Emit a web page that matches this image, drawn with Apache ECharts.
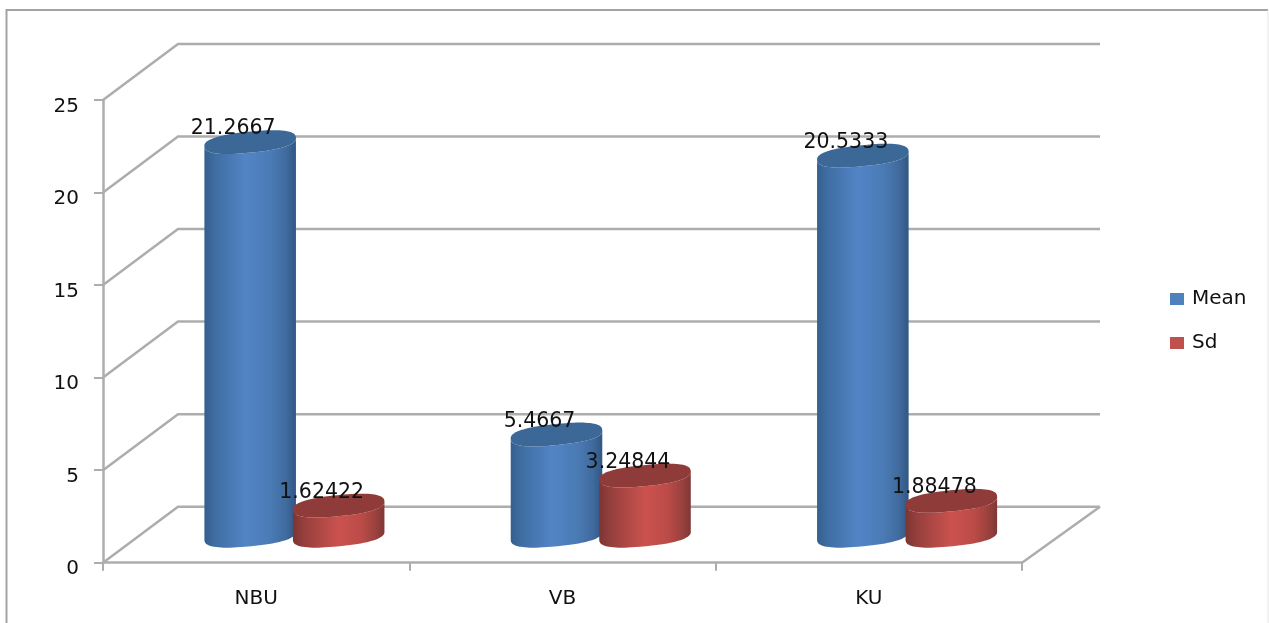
<!DOCTYPE html>
<html><head><meta charset="utf-8">
<style>html,body{margin:0;padding:0;background:#fff}#c{width:1269px;height:623px;filter:blur(0.45px)}</style>
<script src="https://cdn.jsdelivr.net/npm/echarts@6/dist/echarts.min.js"></script>
</head><body><div id="c"></div>
<script>
const categories = ['NBU','VB','KU'];
const meanValues = [21.2667, 5.4667, 20.5333];
const sdValues = [1.62422, 3.24844, 1.88478];
const meanLabels = ['21.2667','5.4667','20.5333'];
const sdLabels = ['1.62422','3.24844','1.88478'];
const yTicks = [0,5,10,15,20,25];

const FONT = '"DejaVu Sans"';
const DEPTH_X = 75, DEPTH_Y = 56, RIGHT_DEPTH_X = 78;
const BASE_X = 38, BASE_Y = 27;
const RX = 46, RY = 10.5, TILT = 0.1, ROUND = 0.8;
const GRID_COLOR = '#adadad';

function arc(cx, cy, from, to, n){
  const pts = [];
  const sp = (c) => Math.sign(c) * Math.pow(Math.abs(c), ROUND);
  for(let i=0;i<=n;i++){
    const t = from + (to-from)*i/n;
    const ex = RX*sp(Math.cos(t)), ey = RY*sp(Math.sin(t));
    pts.push([cx + ex*Math.cos(TILT) + ey*Math.sin(TILT), cy - ex*Math.sin(TILT) + ey*Math.cos(TILT)]);
  }
  return pts;
}
function cylinderItem(offsetX, stops, topColor, labels){
  return function(params, api){
    const i = api.value(0), v = api.value(1);
    const top = api.coord([i, v]), zero = api.coord([i, 0]);
    const cx = top[0] + BASE_X + offsetX;
    const cyTop = top[1] - BASE_Y, cyBase = zero[1] - BASE_Y;
    const body = arc(cx, cyBase, Math.PI, 0, 40).concat(arc(cx, cyTop, 0, Math.PI, 40));
    return {type:'group', children:[
      {type:'polygon', shape:{points:body}, style:{fill:{type:'linear',x:0,y:0,x2:1,y2:0,colorStops:stops}}},
      {type:'polygon', shape:{points:arc(cx, cyTop, 0, Math.PI*2, 80)}, style:{fill:topColor}},
      {type:'text', z2:10, x:cx-17, y:cyTop-13, style:{text:labels[i], font:'20.5px '+FONT, fill:'#111', align:'center', verticalAlign:'middle'}}
    ]};
  };
}
const blueStops = [{offset:0,color:'#34608f'},{offset:.12,color:'#3f6ea2'},{offset:.45,color:'#5284c6'},{offset:.72,color:'#4b7bb5'},{offset:.9,color:'#3f6a9d'},{offset:1,color:'#305683'}];
const redStops = [{offset:0,color:'#7c3533'},{offset:.12,color:'#953f3c'},{offset:.5,color:'#cb524e'},{offset:.75,color:'#bb4b47'},{offset:.9,color:'#9b413e'},{offset:1,color:'#7e3836'}];

const chart = echarts.init(document.getElementById('c'), null, {renderer:'canvas'});
chart.setOption({
  animation:false,
  backgroundColor:'#fff',
  textStyle:{fontFamily:FONT},
  graphic:[
    {type:'polyline', silent:true, shape:{points:[[6.5,623],[6.5,10],[1268,10]]}, style:{stroke:'#a3a3a3', lineWidth:2, fill:null}},
    {type:'line', silent:true, shape:{x1:1268,y1:10,x2:1268,y2:623}, style:{stroke:'#e4e4e4', lineWidth:1}}
  ],
  grid:{left:103, top:100, width:919, height:462.7},
  legend:{
    orient:'vertical', left:1170, top:289, padding:0, itemWidth:14, itemHeight:12, itemGap:24, icon:'rect',
    textStyle:{fontSize:20, fontFamily:FONT, color:'#111', padding:[0,0,0,3]},
    itemStyle:{borderWidth:0},
    data:['Mean','Sd'], selectedMode:false
  },
  xAxis:{type:'category', data:categories,
    axisLine:{lineStyle:{color:GRID_COLOR,width:2.5}},
    axisTick:{show:true,length:8,alignWithLabel:false,lineStyle:{color:GRID_COLOR,width:2}},
    axisLabel:{fontSize:20,color:'#111',margin:26,fontFamily:FONT}
  },
  yAxis:{type:'value',min:0,max:25,interval:5,
    splitLine:{show:false},
    axisLine:{show:true,lineStyle:{color:GRID_COLOR,width:2.5}},
    axisTick:{show:true,length:9,lineStyle:{color:GRID_COLOR,width:2}},
    axisLabel:{fontSize:20,color:'#111',margin:24,fontFamily:FONT,verticalAlign:'top',lineHeight:13}
  },
  series:[
    {type:'custom', name:'wall', z:1, silent:true, clip:false, encode:{x:0,y:1},
     data:yTicks.map(v=>[0,v]),
     renderItem(params, api){
       const cs = params.coordSys, v = api.value(1);
       const y = api.coord([0,v])[1], x = cs.x, r = cs.x+cs.width;
       const kids = [{type:'polyline', shape:{points:[[x,y],[x+DEPTH_X,y-DEPTH_Y],[r+RIGHT_DEPTH_X,y-DEPTH_Y]]}, style:{stroke:GRID_COLOR,lineWidth:2.5,fill:null}}];
       if(v===0) kids.push({type:'line', shape:{x1:r,y1:y,x2:r+RIGHT_DEPTH_X,y2:y-DEPTH_Y}, style:{stroke:GRID_COLOR,lineWidth:2.5}});
       return {type:'group',children:kids};
     }},
    {type:'custom', name:'Mean', z:3, silent:true, clip:false, encode:{x:0,y:1}, itemStyle:{color:'#4f81bd'},
     data:meanValues.map((v,i)=>[i,v]), renderItem:cylinderItem(-44, blueStops, '#3c6897', meanLabels)},
    {type:'custom', name:'Sd', z:4, silent:true, clip:false, encode:{x:0,y:1}, itemStyle:{color:'#c0504d'},
     data:sdValues.map((v,i)=>[i,v]), renderItem:cylinderItem(44.5, redStops, '#8e3b39', sdLabels)}
  ]
});
</script></body></html>
